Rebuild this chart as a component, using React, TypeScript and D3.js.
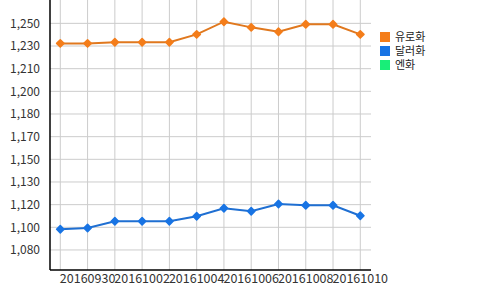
import React from "react";
import * as d3 from "d3";

const categories = [
  "20160929", "20160930", "20161001", "20161002", "20161003", "20161004",
  "20161005", "20161006", "20161007", "20161008", "20161009", "20161010",
];
const xTickLabels = ["20160930", "20161002", "20161004", "20161006", "20161008", "20161010"];

const eurValues = [1232.9, 1232.9, 1233.7, 1233.7, 1233.7, 1239.4, 1248.6, 1244.5, 1241.3, 1246.7, 1246.7, 1239.4];
const usdValues = [1098.4, 1099.3, 1104.2, 1104.2, 1104.2, 1107.8, 1113.6, 1111.4, 1116.7, 1115.7, 1115.7, 1108.2];

const yTickValues = [1083.4, 1099.8, 1116.2, 1132.6, 1149.0, 1165.4, 1181.8, 1198.2, 1214.6, 1231.0, 1247.4];
const yTickLabels = ["1,080", "1,100", "1,120", "1,130", "1,150", "1,170", "1,180", "1,200", "1,210", "1,230", "1,250"];
const yDomain = [1068.9, 1264.3];

const seriesNames = ["유로화", "달러화", "엔화"];
const seriesColors = ["#f47d1a", "#1874e4", "#18ee78"];
const lineColors = ["#e0781e", "#1f6fd2"];

const FONT = "'Noto Sans CJK KR', 'Noto Sans', sans-serif";

export default function App() {
  const left = 50, right = 371, top = 0, bottom = 270;
  const x = d3.scalePoint<string>().domain(categories).range([60.3, 360.3]);
  const y = d3.scaleLinear().domain(yDomain).range([bottom, top]);
  const line = d3.line<number>()
    .x((_, i) => x(categories[i]) as number)
    .y((d) => y(d));
  const diamond = d3.symbol().type(d3.symbolDiamond2).size(34)();
  const series = [eurValues, usdValues];

  return (
    <svg width={500} height={290} style={{ position: "absolute", left: 0, top: 0, background: "#fff" }}>
      {/* horizontal grid */}
      {yTickValues.map((v, i) => (
        <line key={"h" + i} x1={left} x2={right} y1={y(v)} y2={y(v)} stroke="#cccccc" strokeWidth={1} />
      ))}
      {/* vertical grid */}
      {categories.map((c) => (
        <line key={"v" + c} x1={x(c)} x2={x(c)} y1={top} y2={bottom} stroke="#cccccc" strokeWidth={1} />
      ))}
      {/* axes */}
      <line x1={left} x2={left} y1={top} y2={bottom} stroke="#000" strokeWidth={1.5} />
      <line x1={left} x2={right} y1={bottom} y2={bottom} stroke="#000" strokeWidth={1.5} />
      {/* y labels */}
      {yTickValues.map((v, i) => (
        <text key={"yl" + i} x={40} y={y(v)} dy="0.35em" textAnchor="end" fontFamily={FONT} fontSize={12} fill="#333">
          {yTickLabels[i]}
        </text>
      ))}
      {/* x labels */}
      {xTickLabels.map((c) => (
        <text key={"xl" + c} x={x(c)} y={283} textAnchor="middle" fontFamily={FONT} fontSize={12.5} fill="#333">
          {c}
        </text>
      ))}
      {/* series */}
      {series.map((vals, si) => (
        <g key={"s" + si}>
          <path d={line(vals) || ""} fill="none" stroke={lineColors[si]} strokeWidth={2} />
          {vals.map((v, i) => (
            <path key={i} d={diamond || ""} transform={`translate(${x(categories[i])},${y(v)})`}
              fill={seriesColors[si]} stroke={seriesColors[si]} strokeWidth={1.6} strokeLinejoin="round" />
          ))}
        </g>
      ))}
      {/* legend */}
      {seriesNames.map((n, i) => (
        <g key={"lg" + i} transform={`translate(380,${32 + i * 14})`}>
          <rect width={10} height={10} fill={seriesColors[i]} />
          <text x={15} y={5} dy="0.35em" fontFamily={FONT} fontSize={11} fill="#222">{n}</text>
        </g>
      ))}
    </svg>
  );
}
